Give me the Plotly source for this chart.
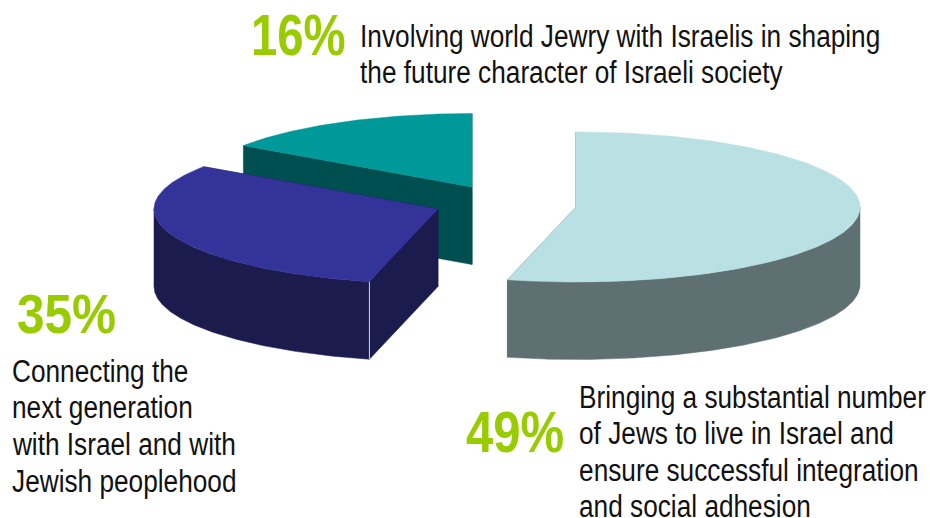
import json
import numpy as np
import plotly.graph_objects as go

# Survey shares, clockwise from twelve o'clock
shares = [49, 35, 16]
share_labels = ["49%", "35%", "16%"]
descriptions = [
    ["Bringing a substantial number", "of Jews to live in Israel and",
     "ensure successful integration", "and social adhesion"],
    ["Connecting the", "next generation", "with Israel and with", "Jewish peoplehood"],
    ["Involving world Jewry with Israelis in shaping",
     "the future character of Israeli society"],
]

# Drawing style per slice: top surface, side wall
top_colors = ["#b9e0e3", "#333399", "#009999"]
side_colors = ["#5f7073", "#1b1b4e", "#004f50"]

# Exploded slice centres and radii in the page coordinate system
centers = [(576, 207), (438, 209), (472, 187)]
radii = [(284, 75), (284, 75), (277, 73.5)]
DEPTH = 77.5


def skew(deg):
    """Perspective skew applied to the pie's angles (pulls the near edge round)."""
    return deg + 17.6 * np.sin(np.radians(deg) / 2) ** 3


def rim(cx, cy, r, a0, a1, drop=0.0):
    t = np.radians(np.linspace(a0, a1, 160))
    return cx + r[0] * np.sin(t), cy - r[1] * np.cos(t) + drop


def polygon(fig, x, y, color):
    fig.add_trace(go.Scatter(
        x=np.append(x, x[0]), y=np.append(y, y[0]), mode="lines", fill="toself",
        fillcolor=color, line=dict(color=color, width=0.5), hoverinfo="skip",
        showlegend=False,
    ))


edges = skew(np.concatenate([[0.0], np.cumsum(shares)]) * 3.6)
fig = go.Figure()

# Back-to-front: teal wedge, then the blue wedge, then the pale wedge
for i in (2, 1, 0):
    cx, cy = centers[i]
    r = radii[i]
    a0, a1 = edges[i], edges[i + 1]
    rx0, ry0 = rim(cx, cy, r, a0, a1)

    # Flat cut faces running from the centre to each end of the rim
    for a in (a0, a1):
        ex, ey = rim(cx, cy, r, a, a)
        ex, ey = ex[0], ey[0]
        polygon(fig, np.array([cx, ex, ex, cx]),
                np.array([cy, ey, ey + DEPTH, cy + DEPTH]), side_colors[i])

    # Curved outer wall, only where the rim faces the viewer
    lo, hi = max(a0, 90), min(a1, 270)
    if hi > lo:
        wx, wy = rim(cx, cy, r, lo, hi)
        polygon(fig, np.concatenate([wx, wx[::-1]]),
                np.concatenate([wy, wy[::-1] + DEPTH]), side_colors[i])

    polygon(fig, np.concatenate([[cx], rx0]), np.concatenate([[cy], ry0]), top_colors[i])

    # Pale highlight on the front corner of the blue wedge
    if i == 1:
        ex, ey = rim(cx, cy, r, a0, a0)
        fig.add_trace(go.Scatter(
            x=[ex[0], ex[0]], y=[ey[0], ey[0] + DEPTH], mode="lines",
            line=dict(color="#d5d5e5", width=1), hoverinfo="skip", showlegend=False,
        ))

# Text blocks: percentage (left x, y, size) and description lines (left x, first y, line step)
pct_pos = [(465, 431, 58), (16, 314, 55), (250, 35, 57)]
text_pos = [(578, 397, 36.5), (11, 371, 36.7), (359, 36, 36)]
TEXT_SIZE = 31
# Horizontal condensing per font size
condense = {"58": 0.845, "55": 0.90, "57": 0.83, str(TEXT_SIZE): 0.846}

annotations = []
for label, (px, py, ps), lines, (tx, ty, step) in zip(share_labels, pct_pos, descriptions, text_pos):
    annotations.append(dict(
        x=px, y=py, text=f"<b>{label}</b>", showarrow=False, xanchor="left", yanchor="middle",
        borderpad=0,
        font=dict(family="Liberation Sans", size=ps, color="#99cc00"),
    ))
    for n, line in enumerate(lines):
        annotations.append(dict(
            x=tx, y=ty + n * step, text=line, showarrow=False, xanchor="left", yanchor="middle",
            borderpad=0,
            font=dict(family="Liberation Sans", size=TEXT_SIZE, color="#111111"),
        ))

fig.update_layout(
    width=930, height=518, margin=dict(l=0, r=0, t=0, b=0),
    paper_bgcolor="white", plot_bgcolor="white", showlegend=False,
    xaxis=dict(range=[0, 930], visible=False, fixedrange=True),
    yaxis=dict(range=[518, 0], visible=False, fixedrange=True),
    annotations=annotations,
)

# The typeface is set condensed: squeeze each label horizontally about its left edge
condense_text = """
var factors = %s;
document.querySelectorAll('text.annotation-text').forEach(function (el) {
  var k = factors[String(parseFloat(el.style.fontSize))] || 1;
  var b = el.getBBox();
  el.setAttribute('transform',
    'translate(' + b.x + ',0) scale(' + k + ',1) translate(' + (-b.x) + ',0)');
});
""" % json.dumps(condense)
fig.write_html("out.html", config=dict(displayModeBar=False), post_script=condense_text)
